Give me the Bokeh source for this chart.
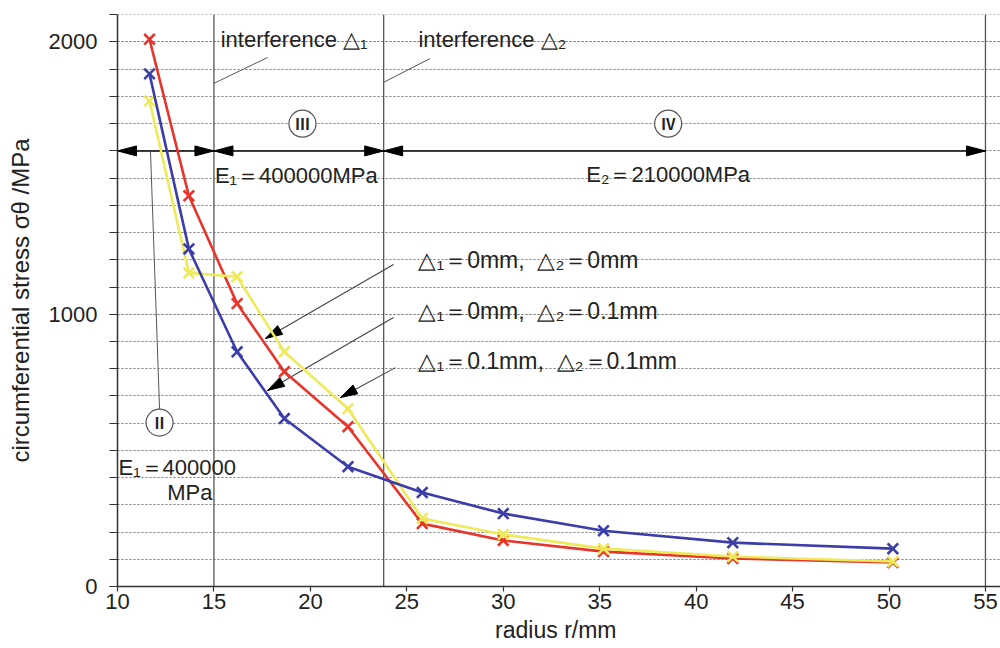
from bokeh.plotting import figure
from bokeh.models import Range1d, FixedTicker, Span, Label
from bokeh.embed import file_html
from bokeh.resources import INLINE

# ---------------- data ----------------
radius_mm = [11.66, 13.7, 16.2, 18.65, 21.95, 25.8, 30.0, 35.2, 41.9, 50.2]
stress_d1_0_d2_0 = [2010, 1435, 1039, 789, 587, 231, 169, 128, 103, 88]      # red
stress_d1_0_d2_01 = [1883, 1240, 862, 617, 440, 345, 268, 205, 161, 139]     # blue
stress_d1_01_d2_01 = [1783, 1152, 1138, 862, 653, 250, 191, 139, 110, 92]    # yellow
series_names = ["△₁＝0mm,\u00a0\u00a0△₂＝0mm",
                "△₁＝0mm,\u00a0\u00a0△₂＝0.1mm",
                "△₁＝0.1mm,\u00a0\u00a0△₂＝0.1mm"]
series_colors = ["#e8352c", "#3a3daa", "#eeea5a"]

x_tick_values = list(range(10, 56, 5))
y_label_values = [0, 1000, 2000]
y_minor_values = list(range(0, 2101, 100))

region_bounds = [10, 15, 23.8, 55]
region_arrow_y = 1600
region_numerals = ["Ⅱ", "Ⅲ", "Ⅳ"]
interference_texts = ["interference △₁", "interference △₂"]
modulus_texts = ["E₁＝400000MPa", "E₂＝210000MPa", "E₁＝400000", "MPa"]

# ---------------- layout ----------------
X0, X1 = 10, 55.78
Y0, Y1 = 0, 2101
LEFT, TOP, BOTTOM = 117, 14, 62
FW, FH = 883, 572
SX = FW / (X1 - X0)
SY = FH / (Y1 - Y0)

FONT = "Liberation Sans"
TXT = "#222222"

p = figure(frame_width=FW, frame_height=FH,
           x_range=Range1d(X0, X1), y_range=Range1d(Y0, Y1),
           output_backend="svg", toolbar_location=None,
           min_border_left=LEFT, min_border_right=0,
           min_border_top=TOP, min_border_bottom=BOTTOM)
p.outline_line_color = None
p.background_fill_color = "white"
p.border_fill_color = "white"

# axes
p.xaxis.ticker = FixedTicker(ticks=x_tick_values)
p.xaxis.major_tick_out = 5
p.xaxis.major_tick_in = 0
p.xaxis.major_label_standoff = 2
p.xaxis.axis_label = "radius  r/mm"
p.xaxis.axis_label_text_font = FONT
p.xaxis.axis_label_text_font_size = "23px"
p.xaxis.axis_label_text_font_style = "normal"
p.xaxis.axis_label_text_color = TXT
p.xaxis.axis_label_standoff = 5

yt = FixedTicker(ticks=y_label_values, minor_ticks=y_minor_values)
p.yaxis.ticker = yt
p.yaxis.major_tick_out = 8
p.yaxis.major_tick_in = 0
p.yaxis.minor_tick_out = 8
p.yaxis.minor_tick_in = 0
p.yaxis.major_label_standoff = 12
p.yaxis.axis_label = "circumferential stress σθ /MPa"
p.yaxis.axis_label_text_font = FONT
p.yaxis.axis_label_text_font_size = "24px"
p.yaxis.axis_label_text_font_style = "normal"
p.yaxis.axis_label_text_color = TXT
p.yaxis.axis_label_standoff = 12

for ax in (p.xaxis, p.yaxis):
    ax.axis_line_color = "#333333"
    ax.axis_line_width = 1.5
    ax.major_tick_line_color = "#333333"
    ax.major_tick_line_width = 1.2
    ax.minor_tick_line_color = "#333333"
    ax.major_label_text_font = FONT
    ax.major_label_text_font_size = "22px"
    ax.major_label_text_color = TXT
p.xaxis.minor_tick_line_color = None

p.xgrid.visible = False
p.ygrid.ticker = yt
p.ygrid.grid_line_color = "#7a7a7a"
p.ygrid.grid_line_dash = "2 2"
p.ygrid.grid_line_width = 1
p.ygrid.minor_grid_line_color = "#7a7a7a"
p.ygrid.minor_grid_line_dash = "2 2"
p.ygrid.minor_grid_line_width = 1

# vertical region boundaries
for v in region_bounds[1:]:
    p.add_layout(Span(location=v, dimension="height", line_color="#555555",
                      line_width=1.3, level="underlay"))


def head(tx, ty, fx, fy, L=18, W=4.5):
    dx = (tx - fx) * SX
    dy = (ty - fy) * SY
    n = (dx * dx + dy * dy) ** 0.5
    ux, uy = dx / n, dy / n
    bx, by = -ux * L, -uy * L
    nx, ny = -uy * W, ux * W
    xs = [tx, tx + (bx + nx) / SX, tx + (bx - nx) / SX]
    ys = [ty, ty + (by + ny) / SY, ty + (by - ny) / SY]
    return xs, ys


# region arrows (double headed) at sigma = 1600
p.line([region_bounds[0], region_bounds[-1]], [region_arrow_y] * 2,
       line_color="black", line_width=1.5)
hx, hy = [], []
for a, b in zip(region_bounds[:-1], region_bounds[1:]):
    for t, f in ((a, b), (b, a)):
        xs, ys = head(t, region_arrow_y, f, region_arrow_y, L=19, W=5)
        hx.append(xs)
        hy.append(ys)

# series leader arrows (label -> curve)
leader_start = [(24.31, 1183), (24.31, 988), (24.41, 804)]
leader_tip = [(17.67, 911), (17.78, 720), (21.56, 694)]
for (sx_, sy_), (tx_, ty_) in zip(leader_start, leader_tip):
    p.line([sx_, tx_], [sy_, ty_], line_color="#444444", line_width=1.1)
    xs, ys = head(tx_, ty_, sx_, sy_, L=17, W=5)
    hx.append(xs)
    hy.append(ys)
p.patches(hx, hy, fill_color="black", line_color="black", line_width=1)

# interference leaders
p.line([15.0, 17.78], [1848, 1943], line_color="#555555", line_width=1)
p.line([23.8, 26.2], [1852, 1939], line_color="#555555", line_width=1)

# region II leader
p.line([11.71, 12.18], [region_arrow_y, 652], line_color="#555555", line_width=1)

# data series
for ys, col in ((stress_d1_0_d2_0, series_colors[0]),
                (stress_d1_01_d2_01, series_colors[2]),
                (stress_d1_0_d2_01, series_colors[1])):
    p.line(radius_mm, ys, line_color=col, line_width=2.6)
    p.scatter(radius_mm, ys, marker="x", size=15, line_color=col, line_width=2.6)

# circled numerals
circ_x = [12.18, 19.59, 38.55]
circ_y = [602, 1700, 1700]
p.scatter(circ_x, circ_y, marker="circle", size=27, fill_color="white",
          line_color="#555555", line_width=1.2)
for nx_, ny_, t in zip(circ_x, circ_y, region_numerals):
    p.add_layout(Label(x=nx_, y=ny_, text=t, text_align="center", text_baseline="middle",
                       text_font="Noto Sans CJK JP", text_font_size="15px",
                       text_font_style="bold", text_color="#222222"))


def lab(x, y, t, size="22px", align="left", baseline="middle", **kw):
    p.add_layout(Label(x=x, y=y, text=t, text_align=align, text_baseline=baseline,
                       text_font=FONT, text_font_size=size, text_color=TXT, **kw))


lab(15.35, 2010, interference_texts[0])
lab(25.6, 2010, interference_texts[1])
lab(15.05, 1510, modulus_texts[0])
lab(38.55, 1515, modulus_texts[1], align="center")
lab(10.05, 437, modulus_texts[2])
lab(14.92, 345, modulus_texts[3], align="right")
for yv, name in zip([1200, 1013, 829], series_names):
    lab(25.6, yv, name, size="23px")

open("out.html", "w").write(file_html(p, INLINE))
